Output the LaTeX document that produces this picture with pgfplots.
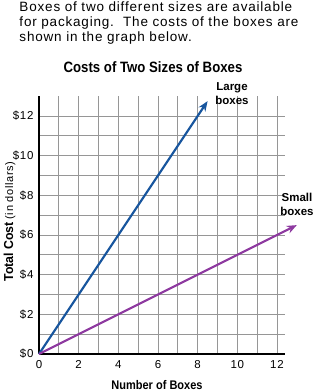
\documentclass[border=0pt]{standalone}
\usepackage{pgfplots}
\pgfplotsset{compat=1.18}
\usetikzlibrary{arrows.meta}
\usepackage{fontspec}
\setmainfont{Liberation Sans}
\newfontfamily\spaced[LetterSpace=6]{Liberation Sans}
\definecolor{largeblue}{RGB}{24,86,158}
\definecolor{smallpurple}{RGB}{142,58,160}
\definecolor{gridgray}{RGB}{150,150,150}
\begin{document}
\begin{tikzpicture}[x=1pt,y=1pt]
\useasboundingbox (0,0) rectangle (314,-391);
% intro text
\node[anchor=base west, inner sep=0] at (19.3,-11.3) {\fontsize{13.5}{15}\spaced Boxes of two different sizes are available};
\node[anchor=base west, inner sep=0] at (19.3,-26.5) {\fontsize{13.5}{15}\spaced for packaging.\ \ The costs of the boxes are};
\node[anchor=base west, inner sep=0] at (19.3,-41.7) {\fontsize{13.5}{15}\spaced shown in the graph below.};
% title
\node[anchor=base, inner sep=0] at (153,-72.5) {\scalebox{0.88}[1]{\fontsize{15}{15}\selectfont\bfseries Costs of Two Sizes of Boxes}};
\begin{axis}[
  at={(39pt,-354pt)}, anchor=south west,
  scale only axis, width=245.9pt, height=257.8pt,
  xmin=0, xmax=12.4, ymin=0, ymax=13,
  axis x line=bottom, axis y line=left,
  axis line style={-, line width=1.5pt, black},
  xtick={0,2,...,12}, ytick={0,2,...,12},
  minor xtick={1,3,...,11}, minor ytick={1,3,...,11},
  grid=both,
  major grid style={gridgray, line width=0.9pt},
  minor grid style={gridgray, line width=0.9pt},
  major tick length=0pt, minor tick length=0pt,
  /pgf/number format/assume math mode=true,
  tick label style={font=\fontsize{11.5}{11.5}\spaced},
  yticklabel={\$\pgfmathprintnumber{\tick}},
  yticklabel style={xshift=-2pt},
  xticklabel style={yshift=-3pt},
  clip=false,
]
\addplot[largeblue, line width=2.2pt, -{Stealth[length=10pt,width=8pt]}] coordinates {(0,0) (8.5,12.75)};
\addplot[smallpurple, line width=2.2pt, -{Stealth[length=10pt,width=8pt]}] coordinates {(0,0) (13,6.5)};
\end{axis}
% line labels
\node[anchor=base, inner sep=0] at (232,-90.5) {\fontsize{11.5}{12}\selectfont\bfseries Large};
\node[anchor=base, inner sep=0] at (232,-104.5) {\fontsize{11.5}{12}\selectfont\bfseries boxes};
\node[anchor=base, inner sep=0] at (297,-201.7) {\fontsize{11.5}{12}\selectfont\bfseries Small};
\node[anchor=base, inner sep=0] at (297,-215.5) {\fontsize{11.5}{12}\selectfont\bfseries boxes};
% axis labels
\node[anchor=base, inner sep=0] at (157,-389) {\scalebox{0.88}[1]{\fontsize{12.5}{12.5}\selectfont\bfseries Number of Boxes}};
\node[anchor=base, inner sep=0, rotate=90] at (13,-221.5) {\scalebox{0.95}[1]{\fontsize{13}{13}\selectfont\bfseries Total Cost} {\fontsize{11}{11}\spaced (in dollars)}};
\end{tikzpicture}
\end{document}
